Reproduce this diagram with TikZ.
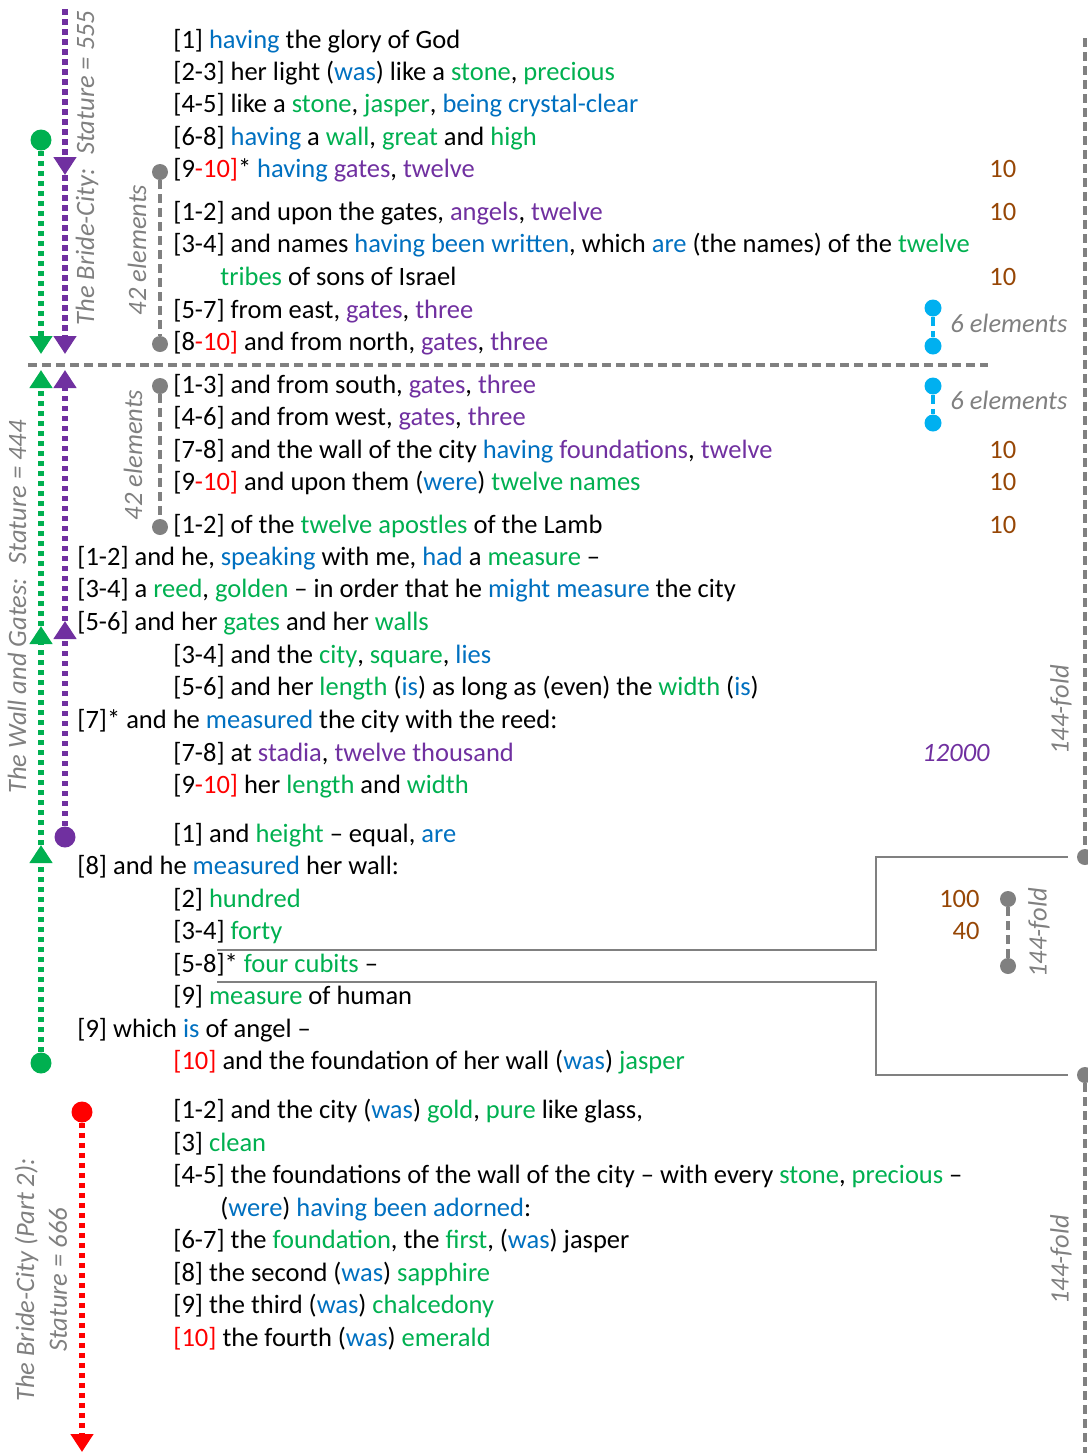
\documentclass[tikz,border=0pt]{standalone}
\usepackage{fontspec}
\setmainfont{Carlito}
\usepackage{xcolor}
\usepackage{tikz}
\usetikzlibrary{arrows.meta, positioning}
\definecolor{verbblue}{RGB}{0, 112, 192}
\definecolor{nounggreen}{RGB}{0, 176, 80}
\definecolor{numpurple}{RGB}{112, 48, 160}
\definecolor{markred}{RGB}{255, 0, 0}
\definecolor{countbrown}{RGB}{151, 71, 6}
\definecolor{notegray}{RGB}{128, 128, 128}
\definecolor{sixcyan}{RGB}{0, 176, 240}
\newcommand{\versefont}{\fontsize{13.25pt}{16.4pt}\selectfont}
\newcommand{\inblue}[1]{\textcolor{verbblue}{#1}}
\newcommand{\ingreen}[1]{\textcolor{nounggreen}{#1}}
\newcommand{\inpurple}[1]{\textcolor{numpurple}{#1}}
\newcommand{\inred}[1]{\textcolor{markred}{#1}}
\tikzset{
    verse/.style={anchor=base west, inner sep=0pt, font=\versefont},
    note/.style={inner sep=0pt, font=\versefont\itshape, text=notegray},
    tally/.style={anchor=base west, inner sep=0pt, font=\versefont, text=countbrown},
    bigdot/.style={circle, minimum size=10.5pt, inner sep=0pt},
    smalldot/.style={circle, fill=notegray, minimum size=8pt, inner sep=0pt},
    dotline/.style={line width=3pt, dash pattern=on 2.75pt off 2.25pt},
    bracket/.style={notegray, line width=1.75pt, dash pattern=on 4.5pt off 2.5pt},
    link/.style={notegray, line width=0.7pt},
    arrowend/.style={-{Triangle[length=9pt, width=11pt]}}
}
\begin{document}
\begin{tikzpicture}[x=0.5pt, y=-0.5pt]
    \useasboundingbox (0,0) rectangle (1088,1453);

    % The Bride-City, part 1
    \node[verse] (v1) at (173,48) {[1] \inblue{having} the glory of God};
    \node[verse] (v2) at (173,80) {[2-3] her light (\inblue{was}) like a \ingreen{stone}, \ingreen{precious}};
    \node[verse] (v3) at (173,112) {[4-5] like a \ingreen{stone}, \ingreen{jasper}, \inblue{being crystal-clear}};
    \node[verse] (v4) at (173,145) {[6-8] \inblue{having} a \ingreen{wall}, \ingreen{great} and \ingreen{high}};
    \node[verse] (v5) at (173,177) {[9\inred{-10]}* \inblue{having} \inpurple{gates}, \inpurple{twelve}};
    \node[verse] (v6) at (173,220) {[1-2] and upon the gates, \inpurple{angels}, \inpurple{twelve}};
    \node[verse] (v7) at (173,252) {[3-4] and names \inblue{having been written}, which \inblue{are} (the names) of the \ingreen{twelve}};
    \node[verse] (v8) at (220,285) {\ingreen{tribes} of sons of Israel};
    \node[verse] (v9) at (173,318) {[5-7] from east, \inpurple{gates}, \inpurple{three}};
    \node[verse] (v10) at (173,350) {[8\inred{-10]} and from north, \inpurple{gates}, \inpurple{three}};

    % The wall and gates
    \node[verse] (v11) at (173,393) {[1-3] and from south, \inpurple{gates}, \inpurple{three}};
    \node[verse] (v12) at (173,425) {[4-6] and from west, \inpurple{gates}, \inpurple{three}};
    \node[verse] (v13) at (173,458) {[7-8] and the wall of the city \inblue{having} \inpurple{foundations}, \inpurple{twelve}};
    \node[verse] (v14) at (173,490) {[9\inred{-10]} and upon them (\inblue{were}) \ingreen{twelve names}};
    \node[verse] (v15) at (173,533) {[1-2] of the \ingreen{twelve apostles} of the Lamb};
    \node[verse] (v16) at (77,565) {[1-2] and he, \inblue{speaking} with me, \inblue{had} a \ingreen{measure} --};
    \node[verse] (v17) at (77,597) {[3-4] a \ingreen{reed}, \ingreen{golden} -- in order that he \inblue{might measure} the city};
    \node[verse] (v18) at (77,630) {[5-6] and her \ingreen{gates} and her \ingreen{walls}};
    \node[verse] (v19) at (173,663) {[3-4] and the \ingreen{city}, \ingreen{square}, \inblue{lies}};
    \node[verse] (v20) at (173,695) {[5-6] and her \ingreen{length} (\inblue{is}) as long as (even) the \ingreen{width} (\inblue{is})};
    \node[verse] (v21) at (77,728) {[7]* and he \inblue{measured} the city with the reed:};
    \node[verse] (v22) at (173,761) {[7-8] at \inpurple{stadia}, \inpurple{twelve thousand}};
    \node[verse] (v23) at (173,793) {[9\inred{-10]} her \ingreen{length} and \ingreen{width}};
    \node[verse] (v24) at (173,842) {[1] and \ingreen{height} -- equal, \inblue{are}};
    \node[verse] (v25) at (77,874) {[8] and he \inblue{measured} her wall:};
    \node[verse] (v26) at (173,907) {[2] \ingreen{hundred}};
    \node[verse] (v27) at (173,939) {[3-4] \ingreen{forty}};
    \node[verse] (v28) at (173,972) {[5-8]* \ingreen{four cubits} --};
    \node[verse] (v29) at (173,1004) {[9] \ingreen{measure} of human};
    \node[verse] (v30) at (77,1037) {[9] which \inblue{is} of angel --};
    \node[verse] (v31) at (173,1069) {\inred{[10]} and the foundation of her wall (\inblue{was}) \ingreen{jasper}};

    % The Bride-City, part 2
    \node[verse] (v32) at (173,1118) {[1-2] and the city (\inblue{was}) \ingreen{gold}, \ingreen{pure} like glass,};
    \node[verse] (v33) at (173,1151) {[3] \ingreen{clean}};
    \node[verse] (v34) at (173,1183) {[4-5] the foundations of the wall of the city -- with every \ingreen{stone}, \ingreen{precious} --};
    \node[verse] (v35) at (220,1216) {(\inblue{were}) \inblue{having been adorned}:};
    \node[verse] (v36) at (173,1248) {[6-7] the \ingreen{foundation}, the \ingreen{first}, (\inblue{was}) jasper};
    \node[verse] (v37) at (173,1281) {[8] the second (\inblue{was}) \ingreen{sapphire}};
    \node[verse] (v38) at (173,1313) {[9] the third (\inblue{was}) \ingreen{chalcedony}};
    \node[verse] (v39) at (173,1346) {\inred{[10]} the fourth (\inblue{was}) \ingreen{emerald}};

    % Counts on the right
    \foreach \yy in {177,220,285,458,490,533}
        \node[tally] (ten\yy) at (989,\yy) {10};
    \node[tally, anchor=base east] (hundred) at (980,907) {100};
    \node[tally, anchor=base east] (forty) at (980,939) {40};
    \node[note, text=numpurple, anchor=base east] (stadia) at (990,761) {12000};

    % Divider between the two halves
    \coordinate (divl) at (28,365);
    \coordinate (divr) at (988,365);
    \draw[bracket] (divl) -- (divr);

    % 42 elements brackets
    \node[smalldot] (ea) at (160,172) {};
    \node[smalldot] (eb) at (160,344) {};
    \draw[bracket] (ea) -- (eb);
    \node[note, rotate=90] (elem1) at (137,250) {42 elements};
    \node[smalldot] (ec) at (160,386) {};
    \node[smalldot] (ed) at (160,527) {};
    \draw[bracket] (ec) -- (ed);
    \node[note, rotate=90] (elem2) at (133,455) {42 elements};

    % 6 elements brackets
    \node[smalldot, fill=sixcyan, minimum size=8.5pt] (sa) at (933,308) {};
    \node[smalldot, fill=sixcyan, minimum size=8.5pt] (sb) at (933,346) {};
    \draw[bracket, sixcyan] (sa) -- (sb);
    \node[note, anchor=west] (six1) at (950,323) {6 elements};
    \node[smalldot, fill=sixcyan, minimum size=8.5pt] (sc) at (933,386) {};
    \node[smalldot, fill=sixcyan, minimum size=8.5pt] (sd) at (933,423) {};
    \draw[bracket, sixcyan] (sc) -- (sd);
    \node[note, anchor=west] (six2) at (950,400) {6 elements};

    % 144-fold on the right edge
    \coordinate (rtop) at (1085,38);
    \node[smalldot] (ra) at (1085,857) {};
    \node[smalldot] (rb) at (1085,1075) {};
    \coordinate (rbot) at (1085,1453);
    \draw[bracket] (rtop) -- (ra);
    \draw[bracket] (rb) -- (rbot);
    \node[note, rotate=90] (fold1) at (1061,710) {144-fold};
    \node[note, rotate=90] (fold3) at (1061,1260) {144-fold};
    \node[smalldot] (fa) at (1008,899) {};
    \node[smalldot] (fb) at (1008,966) {};
    \draw[bracket] (fa) -- (fb);
    \node[note, rotate=90] (fold2) at (1039,933) {144-fold};

    % Thin links from the cubits to the right edge
    \coordinate (la) at (217,950);
    \coordinate (lb) at (217,982);
    \draw[link] (la) -- (876,950) |- (1068,857);
    \draw[link] (lb) -- (876,982) |- (1068,1075);

    % Stature arrows
    \coordinate (ptop) at (65,9);
    \coordinate (parr1) at (65,175);
    \coordinate (parr2) at (65,354);
    \draw[dotline, numpurple, arrowend] (ptop) -- (parr1);
    \draw[dotline, numpurple, arrowend] (parr1) -- (parr2);
    \node[bigdot, fill=nounggreen] (gdot1) at (41,140) {};
    \coordinate (garr1) at (41,354);
    \draw[dotline, nounggreen, arrowend] (gdot1) -- (garr1);
    \node[note, rotate=90] (stature555) at (87,168) {The Bride-City:~ Stature = 555};

    \node[bigdot, fill=nounggreen] (gdot2) at (41,1063) {};
    \coordinate (garr2) at (41,845);
    \coordinate (garr3) at (41,626);
    \coordinate (garr4) at (41,370);
    \draw[dotline, nounggreen, arrowend] (gdot2) -- (garr2);
    \draw[dotline, nounggreen, arrowend] (garr2) -- (garr3);
    \draw[dotline, nounggreen, arrowend] (garr3) -- (garr4);
    \node[bigdot, fill=numpurple] (pdot) at (65,837) {};
    \coordinate (parr3) at (65,621);
    \coordinate (parr4) at (65,370);
    \draw[dotline, numpurple, arrowend] (pdot) -- (parr3);
    \draw[dotline, numpurple, arrowend] (parr3) -- (parr4);
    \node[note, rotate=90] (stature444) at (17,607) {The Wall and Gates:~ Stature = 444};

    \node[bigdot, fill=markred] (rdot) at (82,1112) {};
    \coordinate (rarr) at (82,1452);
    \draw[dotline, markred, arrowend] (rdot) -- (rarr);
    \node[note, rotate=90, align=center] (stature666) at (41,1280) {The Bride-City (Part 2):\\ Stature = 666};
\end{tikzpicture}
\end{document}
